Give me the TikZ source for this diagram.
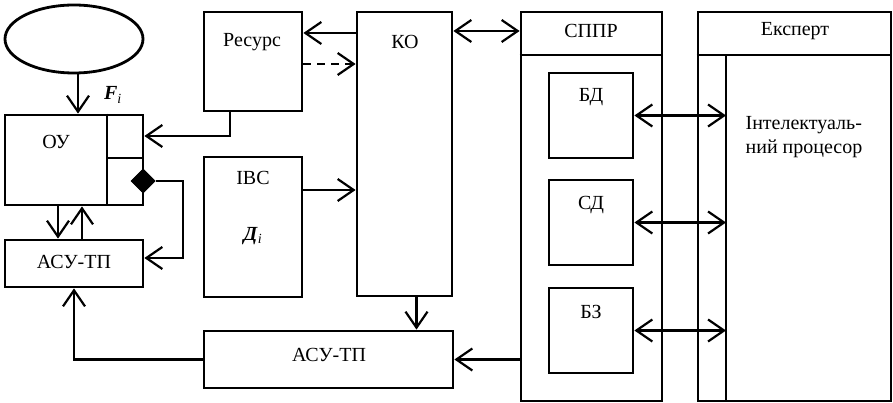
\documentclass[tikz,border=0pt]{standalone}
\usepackage{fontspec}
\setmainfont{Liberation Serif}
\usetikzlibrary{arrows.meta,shapes.geometric}

\tikzset{every picture/.style={line width=2.6pt}}
\tikzset{
  blk/.style={draw, rectangle, inner sep=0pt, line width=2.8pt},
  txt/.style={inner sep=0pt, font=\fontsize{20}{24}\selectfont},
  arr/.style={line width=2.2pt, -{Straight Barb[length=16pt,width=22pt,line width=2.2pt]}},
  darr/.style={line width=2.2pt, {Straight Barb[length=16pt,width=22pt,line width=2.2pt]}-{Straight Barb[length=16pt,width=22pt,line width=2.2pt]}},
  dsh/.style={arr, dash pattern=on 8pt off 6pt}
}

\begin{document}
\begin{tikzpicture}[x=1pt,y=1pt,yscale=-1]
\useasboundingbox (0,0) rectangle (893,403);

%Shapes
\draw (74,39) node [draw, ellipse, line width=2.8pt, minimum width=138pt, minimum height=68pt, inner sep=0pt] (ell) {};
\draw (74,160) node [blk, minimum width=138pt, minimum height=90pt] (ou) {};
\draw (74,263.5) node [blk, minimum width=138pt, minimum height=47pt] (asul) {};
\draw (253,61.5) node [blk, minimum width=98pt, minimum height=99pt] (res) {};
\draw (253,227) node [blk, minimum width=98pt, minimum height=140pt] (ivs) {};
\draw (404.5,154) node [blk, minimum width=95pt, minimum height=284pt] (ko) {};
\draw (328.5,359.5) node [blk, minimum width=249pt, minimum height=57pt] (asub) {};
\draw (591.5,206.5) node [blk, minimum width=141pt, minimum height=389pt] (sppr) {};
\draw (591,115.5) node [blk, minimum width=84pt, minimum height=85pt] (bd) {};
\draw (591,222.5) node [blk, minimum width=84pt, minimum height=85pt] (sd) {};
\draw (591,330.5) node [blk, minimum width=84pt, minimum height=85pt] (bz) {};
\draw (794.5,206.5) node [blk, minimum width=193pt, minimum height=389pt] (exp) {};

%Helper points
\coordinate (ov) at (107,158);
\coordinate (hd) at (0,55);
\coordinate (ipt) at (726,55);
\coordinate (yA) at (0,33);
\coordinate (yB) at (0,64);
\coordinate (yC) at (0,190);
\coordinate (yD) at (0,31);
\coordinate (c1) at (230,136);
\coordinate (c2) at (183,258);

%Straight Lines
\draw (ov |- ou.north) -- (ov |- ou.south);
\draw (ov) -- (ou.east |- ov);
\draw (sppr.west |- hd) -- (sppr.east |- hd);
\draw (exp.west |- hd) -- (exp.east |- hd);
\draw (ipt) -- (ipt |- exp.south);

%Arrows
\draw [arr] ([xshift=4pt]ell.south) -- ([xshift=4pt]ou.north);
\draw [arr] (res.south -| c1) |- (ou.east |- c1);
\draw [arr] ([xshift=-16pt]ou.south) -- ([xshift=-16pt]asul.north);
\draw [arr] ([xshift=8pt]asul.north) -- ([xshift=8pt]ou.south);
\draw (143,181) node [draw, diamond, fill=black, line width=1pt, minimum width=24pt, minimum height=24pt, inner sep=0pt] (dm) {};
\draw [arr] (dm.east) -| (c2) -- (asul.east |- c2);
\draw [arr] (ko.west |- yA) -- (res.east |- yA);
\draw [dsh] (res.east |- yB) -- (ko.west |- yB);
\draw [arr] (ivs.east |- yC) -- (ko.west |- yC);
\draw [darr] (ko.east |- yD) -- (sppr.west |- yD);
\draw [arr] ([xshift=12pt]ko.south) -- ([xshift=12pt]ko.south |- asub.north);
\draw [arr] (sppr.west |- asub.east) -- (asub.east);
\draw [arr] (asub.west) -| (asul.south);
\draw [darr] (bd.east) -- (bd.east -| ipt);
\draw [darr] (sd.east) -- (sd.east -| ipt);
\draw [darr] (bz.east) -- (bz.east -| ipt);

% Text Node
\draw (56,142) node [txt] (touy) {ОУ};
% Text Node
\draw (74,262) node [txt] (tasul) {АСУ-ТП};
% Text Node
\draw (113,95) node [txt] (tf) {\textbf{\textit{F}}\textsubscript{\textit{i}}};
% Text Node
\draw (252,42) node [txt] (tres) {Ресурс};
% Text Node
\draw (253,178) node [txt] (tivs) {ІВС};
% Text Node
\draw (253,236) node [txt] (td) {\textbf{\textit{Д}}\textsubscript{\textit{i}}};
% Text Node
\draw (405,42) node [txt] (tko) {КО};
% Text Node
\draw (329,355) node [txt] (tasub) {АСУ-ТП};
% Text Node
\draw (591,31) node [txt] (tsppr) {СППР};
% Text Node
\draw (795,31) node [txt] (texp) {Експерт};
% Text Node
\draw (591,97) node [txt] (tbd) {БД};
% Text Node
\draw (591,205) node [txt] (tsd) {СД};
% Text Node
\draw (591,312) node [txt] (tbz) {БЗ};
% Text Node
\draw (804,137) node [txt, align=left] (tip) {Інтелектуаль-\\ний процесор};

\end{tikzpicture}
\end{document}
